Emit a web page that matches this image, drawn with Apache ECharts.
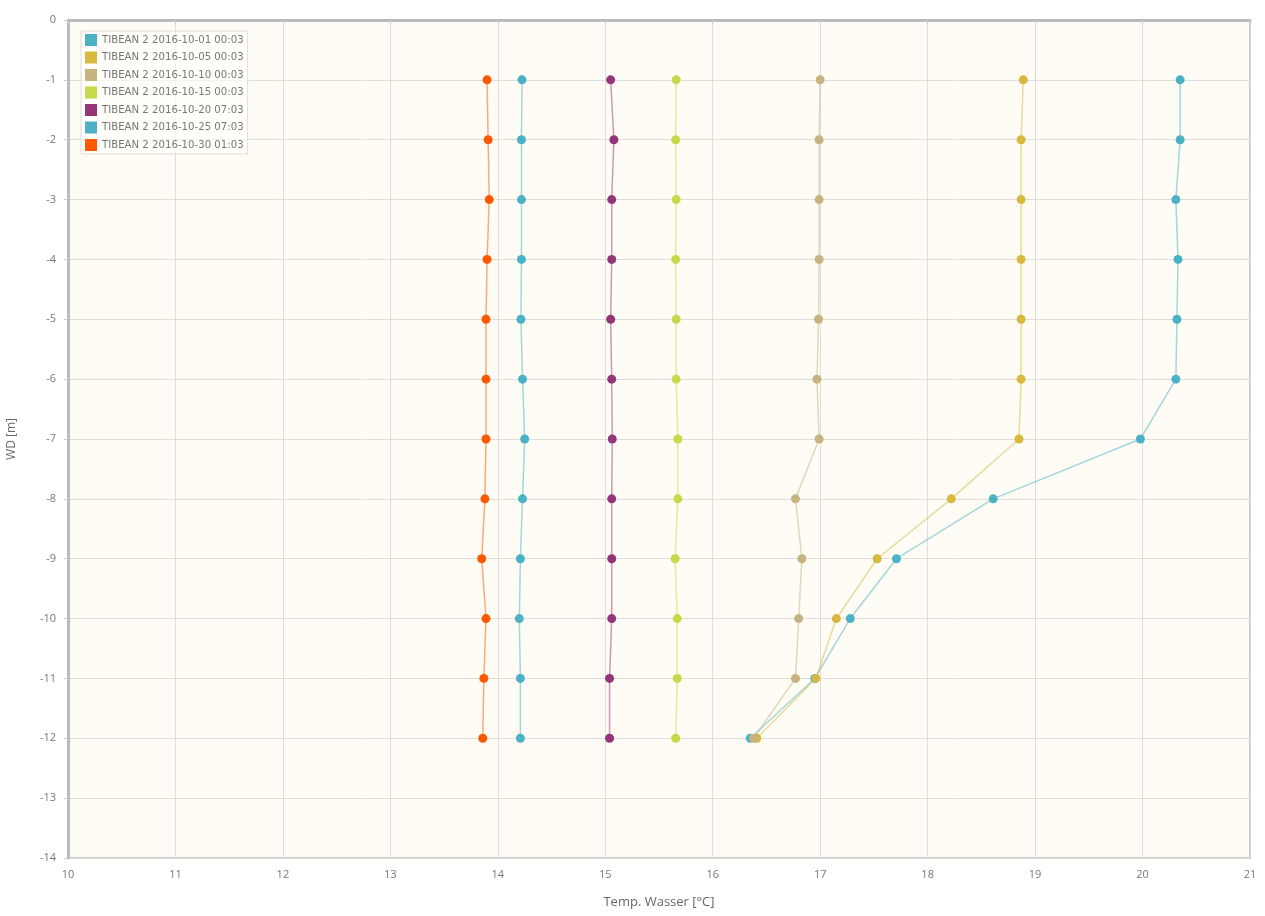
<!DOCTYPE html>
<html>
<head>
<meta charset="utf-8">
<script src="https://cdn.jsdelivr.net/npm/echarts@6/dist/echarts.min.js"></script>
<style>
html,body{margin:0;padding:0;background:#fff;}
#c{width:1265px;height:916px;}
</style>
</head>
<body>
<div id="c"></div>
<script>
var depths = [-1, -2, -3, -4, -5, -6, -7, -8, -9, -10, -11, -12];
var seriesNames = [
  'TIBEAN 2 2016-10-01 00:03',
  'TIBEAN 2 2016-10-05 00:03',
  'TIBEAN 2 2016-10-10 00:03',
  'TIBEAN 2 2016-10-15 00:03',
  'TIBEAN 2 2016-10-20 07:03',
  'TIBEAN 2 2016-10-25 07:03',
  'TIBEAN 2 2016-10-30 01:03'
];
var temp1001 = [20.35, 20.35, 20.31, 20.33, 20.32, 20.31, 19.98, 18.61, 17.71, 17.28, 16.95, 16.35];
var temp1005 = [18.89, 18.87, 18.87, 18.87, 18.87, 18.87, 18.85, 18.22, 17.53, 17.15, 16.96, 16.41];
var temp1010 = [17.00, 16.99, 16.99, 16.99, 16.985, 16.97, 16.99, 16.77, 16.83, 16.80, 16.77, 16.38];
var temp1015 = [15.66, 15.655, 15.66, 15.655, 15.66, 15.66, 15.675, 15.675, 15.65, 15.67, 15.67, 15.655];
var temp1020 = [15.05, 15.08, 15.06, 15.06, 15.05, 15.06, 15.065, 15.06, 15.06, 15.06, 15.04, 15.04];
var temp1025 = [14.225, 14.22, 14.22, 14.22, 14.215, 14.23, 14.25, 14.23, 14.21, 14.20, 14.21, 14.21];
var temp1030 = [13.90, 13.91, 13.92, 13.90, 13.89, 13.89, 13.89, 13.88, 13.85, 13.89, 13.87, 13.86];
var xTicks = [10, 11, 12, 13, 14, 15, 16, 17, 18, 19, 20, 21];
var yTicks = [0, -1, -2, -3, -4, -5, -6, -7, -8, -9, -10, -11, -12, -13, -14];

var allTemps = [temp1001, temp1005, temp1010, temp1015, temp1020, temp1025, temp1030];
var colors = ['#4bb2c5', '#d8b83f', '#c5b47f', '#c7d94a', '#953579', '#4bb2c5', '#ff5800'];

var series = allTemps.map(function (t, k) {
  return {
    name: seriesNames[k],
    type: 'line',
    data: depths.map(function (d, i) { return [t[i], d]; }),
    symbol: 'circle',
    symbolSize: 9,
    itemStyle: { color: colors[k] },
    lineStyle: { color: colors[k], width: 1.5, opacity: 0.5 },
    emphasis: { disabled: true },
    animation: false
  };
});

var chart = echarts.init(document.getElementById('c'));
chart.setOption({
  backgroundColor: '#ffffff',
  animation: false,
  color: colors,
  grid: {
    left: 68, right: 15, top: 20, bottom: 58,
    outerBoundsMode: 'none',
    containLabel: false,
    show: true, backgroundColor: '#fefcf5', borderColor: '#c8c8c8', borderWidth: 2
  },
  legend: {
    orient: 'vertical',
    left: 81, top: 31,
    icon: 'rect',
    itemWidth: 12, itemHeight: 12,
    itemGap: 5.5,
    padding: [3, 4, 3, 4],
    backgroundColor: 'rgba(255,255,255,0.6)',
    borderColor: '#dddddd', borderWidth: 1,
    textStyle: { fontSize: 11.3, color: '#777', fontFamily: 'DejaVu Sans Condensed' },
    data: seriesNames
  },
  xAxis: {
    type: 'value',
    min: xTicks[0], max: xTicks[xTicks.length - 1], interval: 1,
    name: 'Temp. Wasser [°C]', nameLocation: 'middle', nameGap: 38,
    nameTextStyle: { fontSize: 13, color: '#666', fontFamily: 'Open Sans' },
    axisLine: { show: true, lineStyle: { color: '#bbbbbb', width: 3 } },
    axisTick: { show: true, length: 4, lineStyle: { color: '#cccccc' } },
    axisLabel: { fontSize: 11, color: '#777', margin: 11, fontFamily: 'Open Sans' },
    splitLine: { show: true, lineStyle: { color: '#dedede', width: 1 } }
  },
  yAxis: {
    type: 'value',
    min: yTicks[yTicks.length - 1], max: yTicks[0], interval: 1,
    name: 'WD [m]', nameLocation: 'middle', nameGap: 50, nameRotate: 90,
    nameTextStyle: { fontSize: 12, color: '#666', fontFamily: 'Open Sans' },
    axisLine: { show: true, lineStyle: { color: '#bbbbbb', width: 3 } },
    axisTick: { show: true, length: 4, lineStyle: { color: '#cccccc' } },
    axisLabel: { fontSize: 11, color: '#777', margin: 12, fontFamily: 'Open Sans' },
    splitLine: { show: true, lineStyle: { color: '#dedede', width: 1 } }
  },
  series: series
});
</script>
</body>
</html>
